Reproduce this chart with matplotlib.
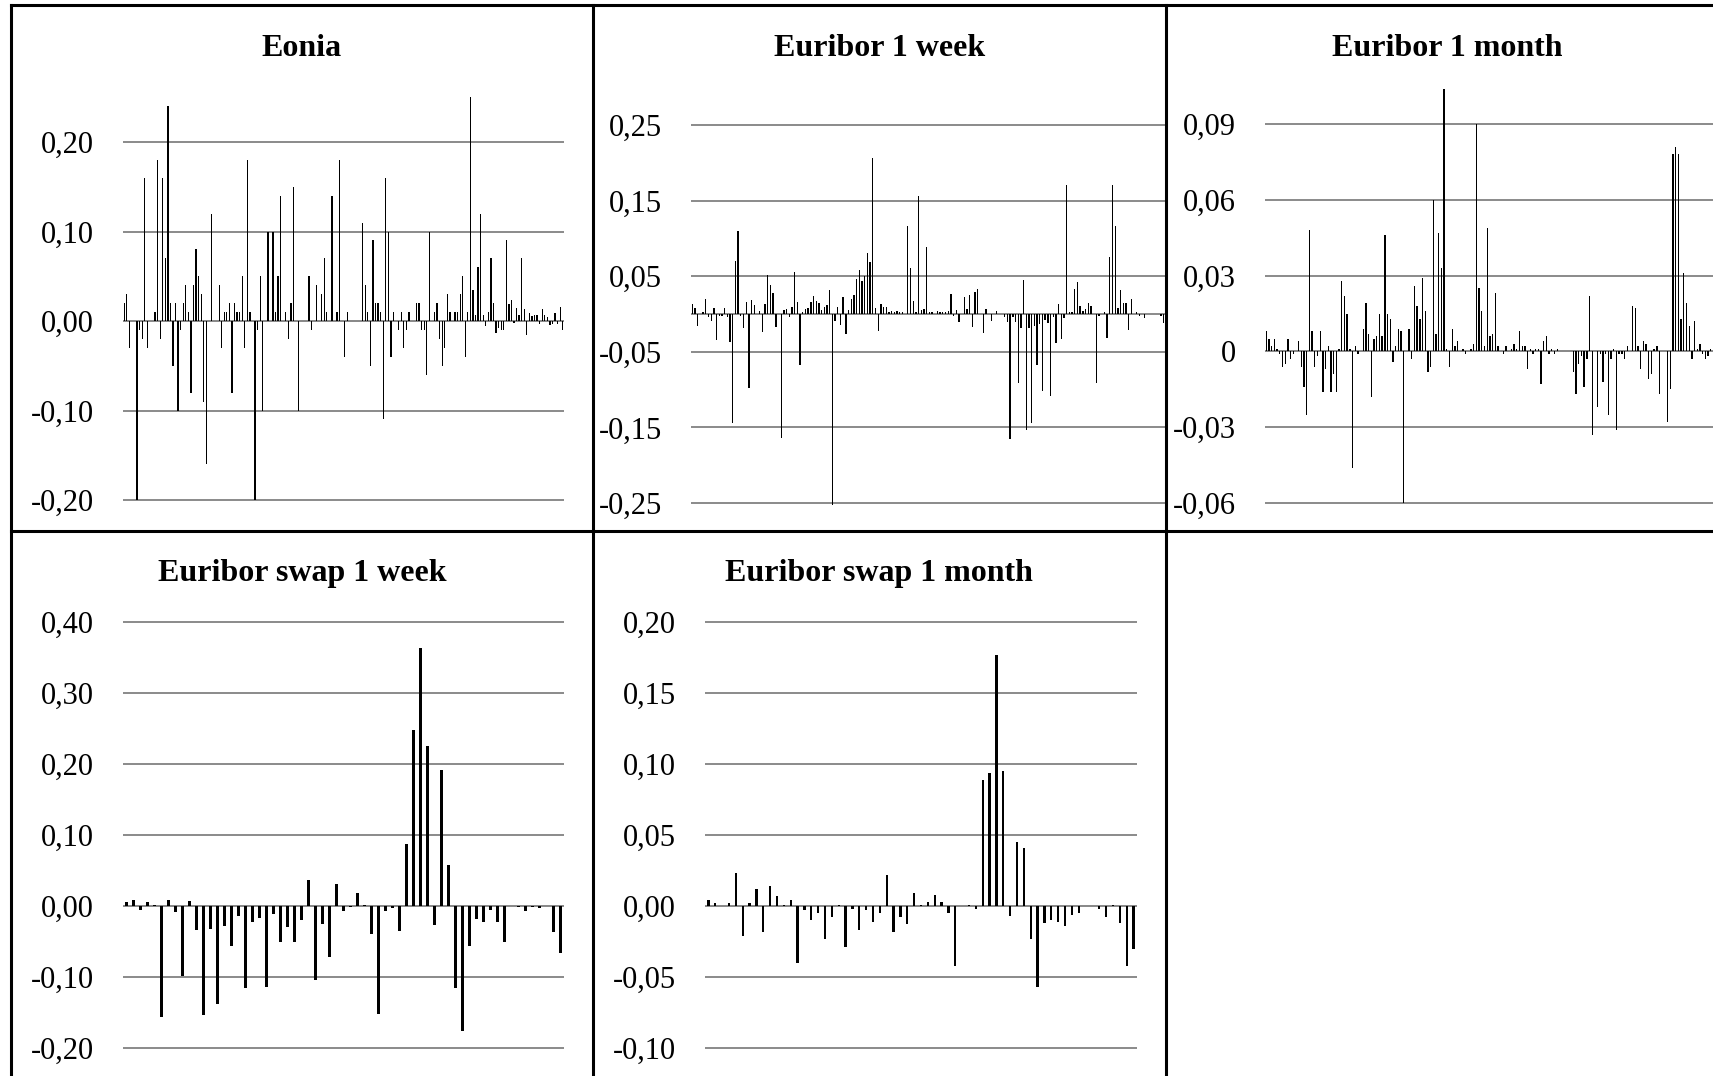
import matplotlib.pyplot as plt
import numpy as np

plt.rcParams['font.family'] = ['Liberation Serif', 'DejaVu Serif']

# values, one per category slot
eonia = [0.02, 0.03, -0.03, 0, 0, -0.20, -0.01, -0.02, 0.16, -0.03,
         0, 0, 0.01, 0.18, -0.02, 0.16, 0.07, 0.24, 0.02, -0.05,
         0.02, -0.10, -0.01, 0.02, 0.04, 0.01, -0.08, 0.04, 0.08, 0.05,
         0.03, -0.09, -0.16, 0, 0.12, 0, 0, 0.04, -0.03, 0.01,
         0.01, 0.02, -0.08, 0.02, 0.01, 0.01, 0.05, -0.03, 0.18, 0.01,
         0, -0.20, -0.01, 0.05, -0.10, 0, 0.10, 0, 0.10, 0.01,
         0.05, 0.14, 0, 0.01, -0.02, 0.02, 0.15, 0, -0.10, 0,
         0, 0, 0.05, -0.01, 0, 0.04, 0, 0.03, 0.07, 0.01,
         0, 0.14, 0, 0.01, 0.18, 0, -0.04, 0.01, 0, 0,
         0, 0, 0, 0.11, 0.04, 0.01, -0.05, 0.09, 0.02, 0.02,
         0.01, -0.11, 0.16, 0.10, -0.04, 0.01, 0, -0.01, 0.01, -0.03,
         -0.01, 0.01, 0, 0, 0.02, 0.02, -0.01, -0.01, -0.06, 0.10,
         0, 0.01, 0.02, -0.02, -0.05, -0.03, 0.03, 0.01, 0, 0.01,
         0.01, 0.03, 0.05, -0.04, 0.01, 0.25, 0.035, 0.007, 0.06, 0.12,
         0.007, -0.006, 0.01, 0.07, 0.02, -0.013, -0.008, -0.01, -0.01, 0.09,
         0.019, 0.023, -0.002, 0.015, 0.007, 0.07, 0.013, -0.016, 0.009, 0.006,
         0.007, 0.007, -0.003, 0.013, 0.007, 0.005, -0.005, -0.003, 0.009, -0.003,
         0.016, -0.01]

euribor_1w = [0.013, 0.008, -0.016, 0, 0.002, 0.02, -0.004, -0.009, 0.008, -0.035,
              -0.003, -0.002, 0.008, -0.004, -0.037, -0.144, 0.07, 0.11, -0.002, -0.018,
              0.016, -0.098, 0.018, 0.012, 0, 0.004, -0.024, 0.013, 0.051, 0.038,
              0.028, -0.017, 0, -0.164, 0.005, 0.007, -0.004, 0.009, 0.055, 0.016,
              -0.068, 0.002, 0.006, 0.008, 0.016, 0.024, 0.017, 0.015, 0.005, 0.009,
              0.012, 0.032, -0.252, -0.009, 0.009, -0.015, 0.023, -0.026, 0.005, 0.02,
              0.025, 0.046, 0.058, 0.043, 0.05, 0.081, 0.069, 0.206, 0.008, -0.022,
              0.013, 0.009, 0.009, 0.002, 0.004, 0.002, 0.004, 0.003, 0.003, 0,
              0.117, 0.061, 0.017, 0.002, 0.156, 0.005, 0.007, 0.089, 0.002, 0.002,
              0, 0.004, 0.002, 0.002, 0.002, 0.004, 0.026, -0.002, 0.005, -0.011,
              0, 0.023, 0.007, 0.025, -0.017, 0.029, 0.033, 0, -0.025, 0.007,
              0, -0.009, 0, 0.004, 0, 0, -0.004, -0.01, -0.166, -0.004,
              -0.01, -0.091, -0.018, 0.045, -0.153, -0.018, -0.144, -0.016, -0.067, -0.013,
              -0.102, -0.008, -0.012, -0.108, -0.004, -0.039, 0.013, -0.033, -0.005, 0.171,
              0.002, 0.002, 0.033, 0.042, 0.01, 0.004, 0.006, 0.014, 0.011, 0,
              -0.091, -0.002, 0, 0.002, -0.032, 0.076, 0.171, 0.117, 0.008, 0.032,
              0.014, 0.015, -0.021, 0.02, 0, 0.002, -0.002, 0, -0.005, 0,
              0, 0, 0, 0, -0.003, -0.012]

# only the slots that are visible before the picture is cut off
euribor_1m = [0.0082, 0.005, 0.002, 0.005, 0.001, -0.001, -0.006, -0.005, 0.005, -0.003,
              -0.001, 0, 0.004, -0.006, -0.014, -0.025, 0.048, 0.008, -0.006, -0.002,
              0.008, -0.016, -0.007, 0.002, -0.016, -0.009, -0.016, 0.001, 0.028, 0.022,
              0.015, 0.001, -0.046, 0.002, -0.001, 0, 0.009, 0.019, 0.007, -0.018,
              0.005, 0.006, 0.015, 0.006, 0.046, 0.015, 0.013, -0.004, 0.002, 0.009,
              0.008, -0.060, 0, 0.009, -0.003, 0.026, 0.018, 0.013, 0.029, 0.016,
              -0.008, -0.006, 0.060, 0.007, 0.047, 0.033, 0.104, 0.001, -0.006, 0.009,
              0.002, 0.004, 0, 0.001, -0.001, 0, 0.001, 0.003, 0.090, 0.025,
              0.016, 0.002, 0.049, 0.006, 0.007, 0.023, 0.002, 0, -0.001, 0.002,
              0, 0.001, 0.003, 0.001, 0.008, 0.002, 0.002, -0.007, 0.001, -0.001,
              0.001, 0.001, -0.013, 0.004, 0.006, -0.001, 0.001, -0.001, 0.001, 0,
              0, 0, 0, 0, -0.008, -0.017, -0.005, -0.002, -0.014, -0.003,
              0.022, -0.033, 0, -0.022, -0.001, -0.012, -0.001, -0.025, -0.003, 0.001,
              -0.031, -0.001, -0.001, -0.003, 0.002, 0, 0.018, 0.017, 0.002, -0.007,
              0.004, 0.003, -0.011, -0.009, 0.001, 0.002, -0.017, 0, 0, -0.028,
              -0.015, 0.078, 0.081, 0.078, 0.013, 0.031, 0.019, 0.010, -0.003, 0.012,
              0.001, 0.003, -0.001, -0.003, -0.002, 0.001]
euribor_1m_slots = 176

swap_1w = [0.005, 0.008, -0.006, 0.005, 0.001, -0.157, 0.008, -0.009, -0.099, 0.007,
           -0.034, -0.153, -0.033, -0.138, -0.028, -0.057, -0.014, -0.115, -0.022, -0.017,
           -0.114, -0.011, -0.051, -0.029, -0.051, -0.020, 0.037, -0.104, -0.026, -0.072,
           0.031, -0.007, -0.002, 0.018, 0.002, -0.039, -0.152, -0.007, -0.003, -0.035,
           0.087, 0.248, 0.363, 0.226, -0.027, 0.191, 0.058, -0.116, -0.176, -0.057,
           -0.019, -0.023, -0.005, -0.023, -0.050, 0.0, -0.002, -0.007, -0.002, -0.003,
           0.0, -0.037, -0.066]

swap_1m = [0.004, 0.002, 0.0, 0.002, 0.023, -0.021, 0.002, 0.012, -0.018, 0.014,
           0.007, 0.001, 0.004, -0.040, -0.003, -0.010, -0.005, -0.023, -0.008, 0.001,
           -0.029, -0.002, -0.017, -0.003, -0.011, -0.005, 0.022, -0.018, -0.008, -0.013,
           0.009, 0.001, 0.003, 0.008, 0.003, -0.005, -0.042, 0.0, 0.001, -0.002,
           0.089, 0.094, 0.177, 0.095, -0.007, 0.045, 0.041, -0.023, -0.057, -0.012,
           -0.010, -0.011, -0.014, -0.006, -0.005, 0.0, 0.0, -0.002, -0.008, 0.001,
           -0.012, -0.042, -0.030]

titles = ['Eonia', 'Euribor 1 week', 'Euribor 1 month',
          'Euribor swap 1 week', 'Euribor swap 1 month']

eonia_ticks = [-0.20, -0.10, 0.00, 0.10, 0.20]
eonia_labels = ['-0,20', '-0,10', '0,00', '0,10', '0,20']
e1w_ticks = [-0.25, -0.15, -0.05, 0.05, 0.15, 0.25]
e1w_labels = ['-0,25', '-0,15', '-0,05', '0,05', '0,15', '0,25']
e1m_ticks = [-0.06, -0.03, 0.0, 0.03, 0.06, 0.09]
e1m_labels = ['-0,06', '-0,03', '0', '0,03', '0,06', '0,09']
s1w_ticks = [-0.20, -0.10, 0.00, 0.10, 0.20, 0.30, 0.40]
s1w_labels = ['-0,20', '-0,10', '0,00', '0,10', '0,20', '0,30', '0,40']
s1m_ticks = [-0.10, -0.05, 0.00, 0.05, 0.10, 0.15, 0.20]
s1m_labels = ['-0,10', '-0,05', '0,00', '0,05', '0,10', '0,15', '0,20']

W, H = 1713, 1076
fig = plt.figure(figsize=(W / 100, H / 100), dpi=100)
GRID = '#8a8a8a'


def add_panel(x0, x1, v_hi, p_hi, v_lo, p_lo, ylim):
    # place an axes so that value v_hi lands on pixel row p_hi, v_lo on p_lo
    s = (p_lo - p_hi) / (v_hi - v_lo)
    top = p_hi - (ylim[1] - v_hi) * s
    bot = p_lo + (v_lo - ylim[0]) * s
    ax = fig.add_axes([x0 / W, 1 - bot / H, (x1 - x0) / W, (bot - top) / H])
    ax.set_ylim(ylim)
    return ax


def draw(ax, values, n_slots, ticks, labels, width):
    ax.set_axisbelow(True)
    ax.yaxis.grid(True, color=GRID, lw=1.4)
    ax.axhline(0, color=GRID, lw=1.4, zorder=1)
    ax.bar(np.arange(len(values)), values, width=width, color='black',
           linewidth=0, zorder=2)
    ax.set_xlim(-0.5, n_slots - 0.5)
    ax.set_xticks([])
    ax.set_yticks(ticks)
    ax.set_yticklabels(labels)
    ax.tick_params(axis='y', length=0, pad=21, labelsize=22)
    for sp in ax.spines.values():
        sp.set_visible(False)
    ax.patch.set_alpha(0)


ax = add_panel(123, 564, 0.20, 142, -0.20, 500, (-0.21, 0.26))
draw(ax, eonia, len(eonia), eonia_ticks, eonia_labels, 0.5)

ax = add_panel(691, 1165, 0.25, 125, -0.25, 503, (-0.26, 0.26))
draw(ax, euribor_1w, len(euribor_1w), e1w_ticks, e1w_labels, 0.5)

ax = add_panel(1265, 1739, 0.09, 124, -0.06, 503, (-0.062, 0.107))
draw(ax, euribor_1m, euribor_1m_slots, e1m_ticks, e1m_labels, 0.5)

ax = add_panel(123, 564, 0.40, 622, -0.20, 1048, (-0.205, 0.405))
draw(ax, swap_1w, len(swap_1w), s1w_ticks, s1w_labels, 0.33)

ax = add_panel(705, 1137, 0.20, 622, -0.10, 1048, (-0.102, 0.202))
draw(ax, swap_1m, len(swap_1m), s1m_ticks, s1m_labels, 0.33)

# titles centred on their table cells
title_pos = [(302, 56), (880, 56), (1447, 56), (302, 581), (879, 581)]
for t, (cx, by) in zip(titles, title_pos):
    fig.text(cx / W, 1 - by / H, t, ha='center', va='baseline',
             fontsize=23, fontweight='bold')

# table borders
bx = fig.add_axes([0, 0, 1, 1], zorder=10)
bx.set_xlim(0, W)
bx.set_ylim(H, 0)
bx.axis('off')
for y in (5, 531):
    bx.plot([11, W], [y, y], color='black', lw=2.2, solid_capstyle='projecting')
for x in (11, 593, 1166):
    bx.plot([x, x], [5, H], color='black', lw=2.2, solid_capstyle='projecting')

fig.savefig('out.png', dpi=100)
